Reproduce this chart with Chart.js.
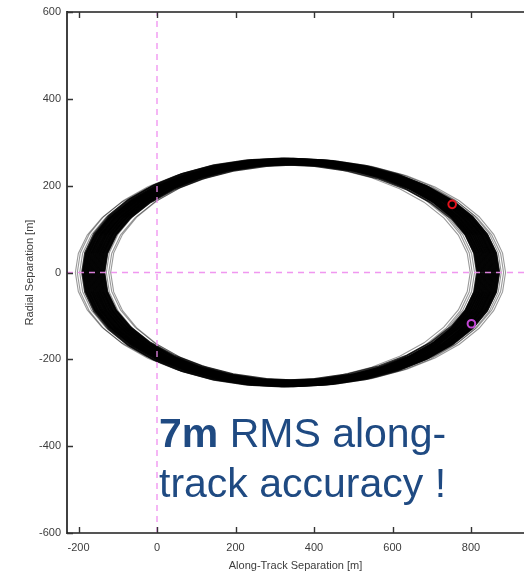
<!DOCTYPE html>
<html>
<head>
<meta charset="utf-8">
<script src="https://cdn.jsdelivr.net/npm/chart.js@4/dist/chart.umd.min.js"></script>
<style>
  html, body { margin: 0; padding: 0; background: #fff; }
  #wrap { position: relative; width: 524px; height: 573px; overflow: hidden; }
  #note {
    position: absolute; left: 159px; top: 408px;
    font: 41px/50px "Liberation Sans", Arial, sans-serif;
    color: #1f4a82; white-space: nowrap;
  }
  #note b { font-weight: bold; }
</style>
</head>
<body>
<div id="wrap">
  <canvas id="c" width="524" height="573"></canvas>
  <div id="note"><b>7m</b> RMS along-<br>track accuracy !</div>
</div>
<script>
// Nominal relative orbit, one revolution, vertices every 10 deg [m]
const orbitAlong  = [844, 836.4, 813.7, 776.6, 726.3, 664.3, 592.5, 513.0, 428.3, 341,
                     253.7, 169.0, 89.5, 17.7, -44.3, -94.6, -131.7, -154.4, -162,
                     -154.4, -131.7, -94.6, -44.3, 17.7, 89.5, 169.0, 253.7, 341,
                     428.3, 513.0, 592.5, 664.3, 726.3, 776.6, 813.7, 836.4, 844];
const orbitRadial = [0, 44.5, 87.6, 128, 164.6, 196.1, 221.7, 240.6, 252.1, 256,
                     252.1, 240.6, 221.7, 196.1, 164.6, 128, 87.6, 44.5, 0,
                     -44.5, -87.6, -128, -164.6, -196.1, -221.7, -240.6, -252.1, -256,
                     -252.1, -240.6, -221.7, -196.1, -164.6, -128, -87.6, -44.5, 0];
const nominalRadialAmp = 256;

// Per-revolution along-track offset [m] and radial amplitude [m]
const revDrift = [-46, -41, -35, -29, -27, -26, -24, -23, -21, -20, -18, -17, -15, -14, -12, -11,
                  -9, -8, -6, -5, -3, -2, 0, 1, 3, 4, 6, 7, 9, 10, 12, 13, 15, 16, 18, 19,
                  21, 22, 24, 25, 27, 28, 33, 39, 44];
const revRadialAmp = [252, 258, 255, 261, 249, 256, 263, 253, 259, 251, 257, 262, 254, 250, 260, 256,
                      258, 252, 263, 255, 249, 261, 257, 253, 259, 255, 262, 251, 256, 260, 254, 258,
                      250, 257, 253, 259, 261, 252, 256, 249, 258, 254, 260, 253, 257];

// Spacecraft positions at epoch [m]
const startAlong = [752];
const startRadial = [157];
const endAlong = [801];
const endRadial = [-118];

// Axis ticks and ranges
const alongTicks = [-200, 0, 200, 400, 600, 800];
const radialTicks = [-600, -400, -200, 0, 200, 400, 600];
const alongRange = [-229.3, 935];
const radialRange = [-600, 600];

const tickFont = { family: '"Liberation Sans", Arial, sans-serif', size: 11 };
const textColor = '#3c3c3c';

const pts = (xs, ys) => xs.map((v, i) => ({ x: v, y: ys[i] }));

// Revolutions far from the mean drift show up as faint outliers
const revolutions = revDrift.map((d, i) => ({
  data: orbitAlong.map((a, k) => ({ x: a + d, y: orbitRadial[k] * revRadialAmp[i] / nominalRadialAmp })),
  showLine: true,
  borderColor: Math.abs(d) > 30 ? 'rgba(0,0,0,0.4)' : 'rgba(0,0,0,0.8)',
  borderWidth: Math.abs(d) > 30 ? 1.1 : 1.8,
  pointRadius: 0,
  tension: 0
}));

const crossStyle = {
  showLine: true,
  borderColor: 'rgba(238,140,238,0.9)',
  borderWidth: 1.4,
  borderDash: [6, 5],
  pointRadius: 0
};

// Frame with inward tick marks on left, bottom and top edges
const framePlugin = {
  id: 'frame',
  afterDatasetsDraw(chart) {
    const { ctx, chartArea: { left, right, top, bottom }, scales: { x, y } } = chart;
    ctx.save();
    ctx.strokeStyle = '#555';
    ctx.lineWidth = 2.2;
    ctx.beginPath();
    ctx.moveTo(left, top); ctx.lineTo(right, top);
    ctx.moveTo(left, bottom); ctx.lineTo(right, bottom);
    ctx.stroke();
    ctx.strokeStyle = '#111';
    ctx.lineWidth = 1.6;
    ctx.beginPath();
    ctx.moveTo(left, top - 1); ctx.lineTo(left, bottom + 1);
    ctx.stroke();
    ctx.strokeStyle = '#333';
    ctx.lineWidth = 1.4;
    ctx.beginPath();
    x.ticks.forEach(t => {
      const px = Math.round(x.getPixelForValue(t.value)) + 0.5;
      ctx.moveTo(px, bottom); ctx.lineTo(px, bottom - 6);
      ctx.moveTo(px, top); ctx.lineTo(px, top + 6);
    });
    y.ticks.forEach(t => {
      const py = Math.round(y.getPixelForValue(t.value)) + 0.5;
      ctx.moveTo(left, py); ctx.lineTo(left + 6, py);
    });
    ctx.stroke();
    ctx.restore();
  }
};

new Chart(document.getElementById('c'), {
  type: 'scatter',
  data: {
    datasets: [
      { data: pts(startAlong, startRadial), pointStyle: 'circle', pointRadius: 3.8,
        pointBorderWidth: 2, pointBorderColor: '#e3121c', pointBackgroundColor: 'rgba(0,0,0,0)' },
      { data: pts(endAlong, endRadial), pointStyle: 'circle', pointRadius: 3.8,
        pointBorderWidth: 2, pointBorderColor: '#c447d6', pointBackgroundColor: 'rgba(0,0,0,0)' },
      Object.assign({ data: pts([0, 0], radialRange) }, crossStyle),
      Object.assign({ data: pts(alongRange, [0, 0]) }, crossStyle),
      ...revolutions
    ]
  },
  options: {
    responsive: false,
    animation: false,
    events: [],
    layout: { autoPadding: false, padding: { top: 12, right: 0, bottom: 0, left: 0 } },
    plugins: { legend: { display: false }, tooltip: { enabled: false } },
    scales: {
      x: {
        type: 'linear',
        min: alongRange[0], max: alongRange[1],
        afterBuildTicks: s => { s.ticks = alongTicks.map(v => ({ value: v })); },
        afterFit: s => { s.height = 40; s.paddingLeft = 0; s.paddingRight = 0; },
        grid: { display: false, drawTicks: false },
        border: { display: false },
        ticks: { padding: 8, color: textColor, font: tickFont },
        title: { display: true, text: 'Along-Track Separation [m]', color: textColor,
                 font: tickFont, padding: { top: 0, bottom: 0 } }
      },
      y: {
        type: 'linear',
        min: radialRange[0], max: radialRange[1],
        afterBuildTicks: s => { s.ticks = radialTicks.map(v => ({ value: v })); },
        afterFit: s => { s.width = 67; s.paddingTop = 0; s.paddingBottom = 0; },
        grid: { display: false, drawTicks: false },
        border: { display: false },
        ticks: { padding: 6, color: textColor, font: tickFont },
        title: { display: true, text: 'Radial Separation [m]', color: textColor,
                 font: tickFont, padding: { top: 23.4, bottom: 0 } }
      }
    }
  },
  plugins: [framePlugin]
});
</script>
</body>
</html>
